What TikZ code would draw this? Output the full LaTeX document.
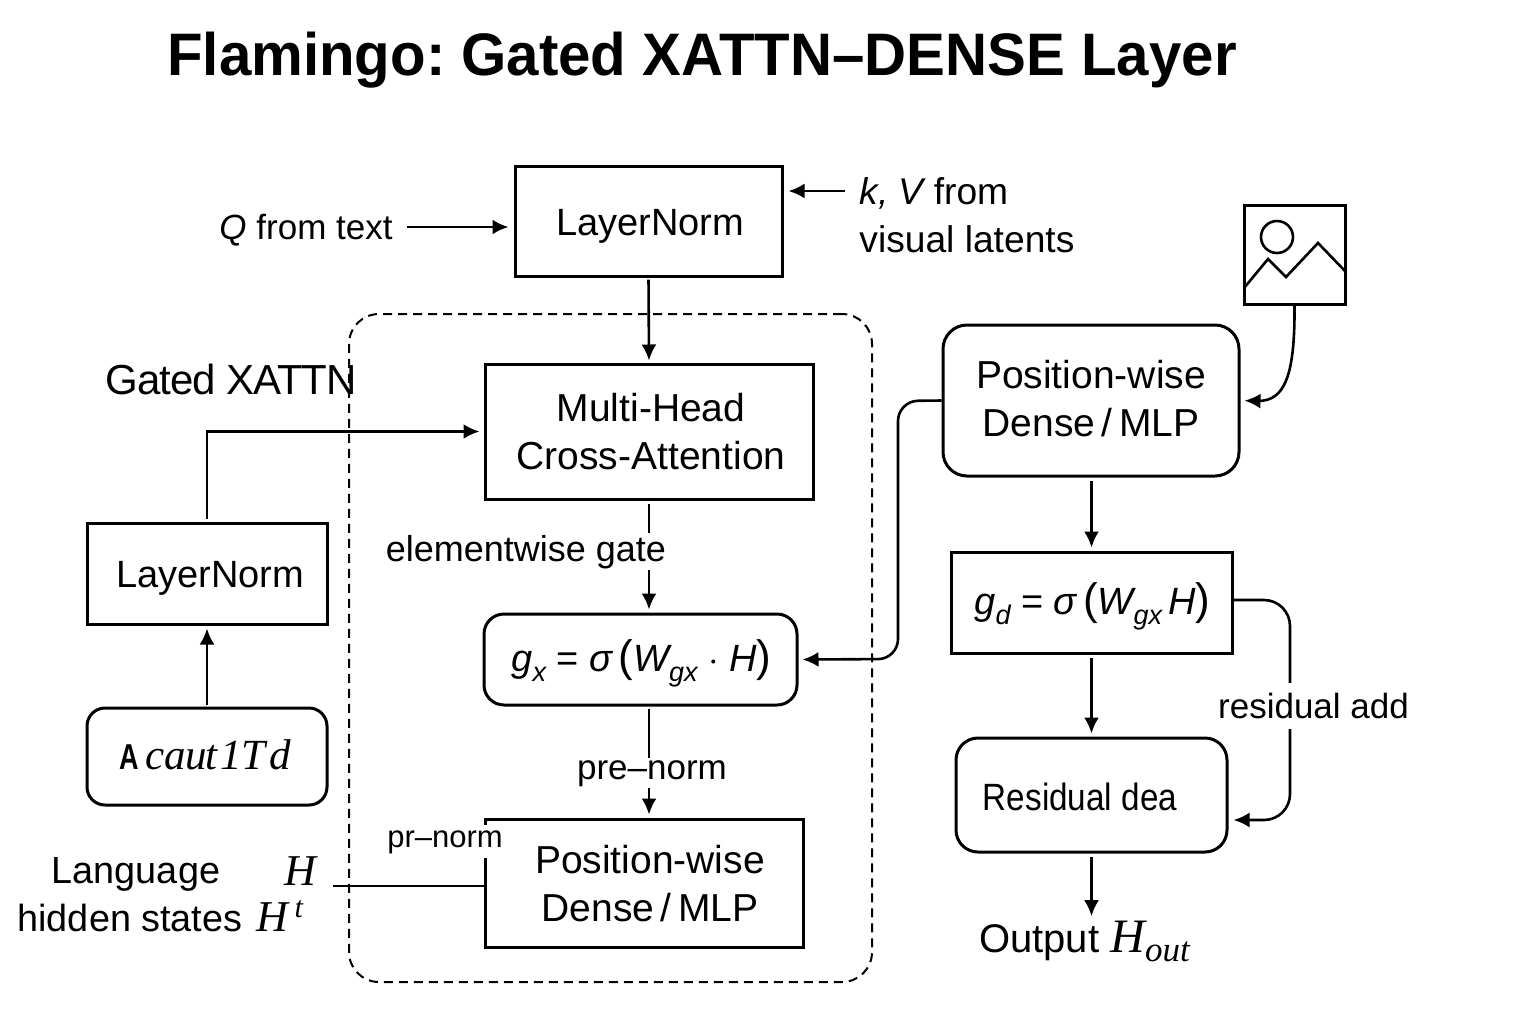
\RequirePackage{fix-cm}
\documentclass[tikz,border=0pt]{standalone}
\usepackage{fontspec}
\setmainfont{Liberation Sans}
\newfontfamily\tms{Liberation Serif}
\usetikzlibrary{arrows.meta}
\newcommand{\fs}[1]{\fontsize{#1}{24}\selectfont}
\newcommand{\sbs}[1]{\raisebox{-.28em}{\fontsize{13.5}{14}\selectfont\itshape #1}}
% text placed inside a box: #1 = twice the x offset, #2 = raise of the baselines
\newcommand{\tsh}[3]{\makebox[0pt]{\hspace*{#1}\raisebox{#2}[0pt][0pt]{\begin{tabular}[c]{@{}c@{}}#3\end{tabular}}}}
\tikzset{
  x=.5pt,y=-.5pt,
  boxcommon/.style={draw=black,line width=1.5pt,inner sep=0pt,align=center,font=\fs{19.5}},
  sqbox/.style={boxcommon},
  rbox/.style={boxcommon,rounded corners=#1},
  rbox/.default=11pt,
  lab/.style={inner sep=0pt,align=center,font=\fs{17.5}},
  wlab/.style={lab,fill=white,inner ysep=1pt,inner xsep=0pt},
  conn/.style={line width=1.3pt,draw=black},
  arr/.style={conn,-{Latex[length=8pt,width=7.5pt]}},
}
\begin{document}
\frenchspacing
\begin{tikzpicture}
\useasboundingbox (0,0) rectangle (1536,1024);
% title
\node[inner sep=0pt,font=\bfseries\fs{30}] (title) at (702,60) {\scalebox{.97}[1]{Flamingo: Gated XATTN–DENSE Layer}};
% group
\node[draw=black,line width=1pt,dash pattern=on 4.5pt off 3pt,rounded corners=15pt,minimum width=261.5pt,minimum height=334pt,inner sep=0pt] (group) at (610.5,648) {};
% main column
\node[sqbox,minimum width=133.5pt,minimum height=55pt,font=\fs{19}] (ln1) at (648.5,221) {\tsh{1.5pt}{-7pt}{LayerNorm}};
\node[sqbox,minimum width=164pt,minimum height=67.5pt] (mhca) at (649,431.5) {\tsh{2pt}{-7pt}{Multi-Head\\Cross-Attention}};
\node[rbox=10pt,minimum width=156.5pt,minimum height=45.5pt,font=\fs{19}] (gx) at (640.5,659.5)
  {\tsh{1pt}{-6.25pt}{{\itshape g\sbs{x}} = {\itshape σ}\,{\fs{22}(}{\itshape W\sbs{gx}} $\cdot$ {\itshape H}{\fs{22})}}};
\node[sqbox,minimum width=159pt,minimum height=64pt] (pw) at (644,883) {\tsh{6pt}{-7.5pt}{Position-wise\\Dense\,/\,MLP}};
% left column
\node[sqbox,minimum width=120pt,minimum height=50.5pt,font=\fs{19}] (ln2) at (207,573.5) {\tsh{3pt}{-6.75pt}{LayerNorm}};
\node[rbox=9pt,minimum width=120pt,minimum height=48.5pt] (ac) at (207,756.5)
  {\tsh{-2pt}{-6.75pt}{\scalebox{.75}[1]{\bfseries\fs{18}A}\,{\tms\itshape\fs{21.5}cau\kern-1pt t\kern1.5pt 1T\kern2pt d}}};
% right column
\node[rbox=12pt,minimum width=148pt,minimum height=75.5pt] (rpw) at (1091,400.5) {\tsh{0pt}{-6.25pt}{Position-wise\\Dense\,/\,MLP}};
\node[sqbox,minimum width=140.5pt,minimum height=50.5pt,font=\fs{19}] (gd) at (1091.5,602.5)
  {\tsh{1pt}{-6.25pt}{{\itshape g\sbs{d}} = {\itshape σ}\,{\fs{22}(}{\itshape W\sbs{gx}\,H}{\fs{22})}}};
\node[rbox=11pt,minimum width=135.5pt,minimum height=57pt] (res) at (1091.5,795) {\tsh{-11.5pt}{-8pt}{\fs{19}\scalebox{.875}[1]{Residual dea}}};
% icon
\node[draw=black,line width=1.5pt,minimum width=50.5pt,minimum height=49.5pt,inner sep=0pt] (icon) at (1294.5,254.5) {};
\draw[line width=1.3pt] (1277,237) circle (8pt);
\draw[line width=1.3pt] (1244,288) -- (1268,259) -- (1286,277) -- (1318,243) -- (1345,271);
% texts
\node[lab,anchor=base] (qt) at (306,239) {{\itshape Q} from text};
\node[inner sep=0pt,align=left,anchor=west,font=\fs{18.6}] (kv) at (859,215.5) {{\itshape k, V} from\\visual latents};
\node[inner sep=0pt,font=\fs{21}] (gated) at (231,379) {\addfontfeature{LetterSpace=-2.5}Gated XATTN};
\node[inner sep=0pt,align=center,font=\fs{18.9}] (lang) at (130,895) {\hspace*{6pt}Language\\hidden states};
\node[inner sep=0pt,font=\tms\itshape\fs{22},anchor=base] (h1) at (300,885) {H};
\node[inner sep=0pt,font=\tms\itshape\fs{22},anchor=base] (h2) at (280,931) {H\kern3pt\raisebox{.3em}{\fs{15}t}};
\node[inner sep=0pt,font=\fs{20},anchor=base] (out) at (1084.5,952) {Output {\tms\itshape\fs{24}H\raisebox{-.2em}{\fs{17.5}out}}};
\coordinate (hfree) at (333,886);
% connectors
\draw[arr,shorten <=7pt,shorten >=2.5pt] (qt.east |- 0,227) -- (ln1.west |- 0,227);
\draw[arr,shorten >=2.5pt,shorten <=7pt] (kv.west |- 0,191) -- (ln1.east |- 0,191);
\draw[arr,shorten <=1pt,shorten >=1pt] (ln1.south) -- (mhca.north);
\draw[arr,shorten <=1.5pt,shorten >=2pt] (ln2.north) -- (ln2.north |- mhca.west) -- (mhca.west);
\draw[arr,shorten <=1pt,shorten >=1.5pt] (ac.north) -- (ln2.south);
\draw[arr,shorten <=1.5pt,shorten >=1.5pt] (mhca.south -| 649,0) -- (gx.north -| 649,0);
\node[wlab,anchor=base,font=\fs{18}] (eg) at (526,561) {elementwise gate};
\draw[arr,shorten <=1pt,shorten >=1.5pt] (gx.south -| 649,0) -- (pw.north -| 649,0);
\node[wlab,anchor=base] (pn) at (652,779) {pre–norm};
\node[lab,fill=white,inner ysep=2.5pt,inner xsep=1pt,font=\fs{15.5},anchor=base] (prn) at (445,847) {pr–norm};
\draw[conn] (hfree) -- (pw.west |- hfree);
\draw[arr,rounded corners=10pt,shorten >=2pt] (rpw.west) -- (898,401) -- (898,659) -- (gx.east);
\draw[arr,shorten >=2pt] (icon.south) .. controls (1295,375) and (1285,401) .. (1258,401) -- (rpw.east);
\draw[arr,shorten <=1.5pt,shorten >=1.5pt] (rpw.south -| gd.north) -- (gd.north);
\draw[arr,shorten <=1.5pt,shorten >=1.5pt] (gd.south) -- (res.north);
\draw[arr,rounded corners=13pt,shorten >=2.5pt] (gd.east |- 0,600) -- (1290,600) -- (1290,820) -- (res.east |- 0,820);
\node[wlab,inner ysep=5pt] (ra) at (1313.5,706) {residual add};
\draw[arr,shorten <=1.5pt,shorten >=2pt] (res.south) -- (res.south |- out.north);
\end{tikzpicture}
\end{document}
